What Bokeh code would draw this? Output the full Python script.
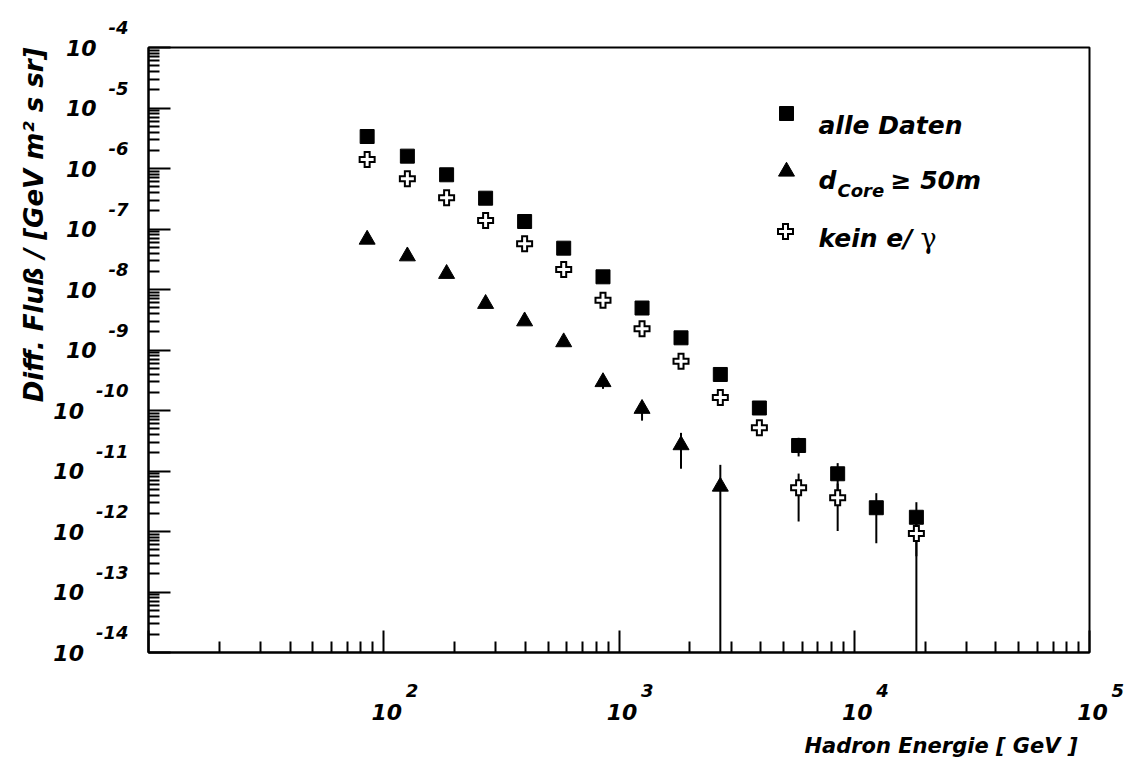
import math
import numpy as np
from bokeh.plotting import figure
from bokeh.models import Range1d, FixedTicker, CustomJSTickFormatter
from bokeh.core.properties import value
from bokeh.embed import file_html
from bokeh.resources import INLINE

# Hadron energy bin centres [GeV]
energy = [85, 126, 185, 271, 397, 582, 855, 1253, 1835, 2696, 3951, 5801, 8502, 12410, 18370]

# differential flux, all events
flux_all = [3.38e-6, 1.60e-6, 7.87e-7, 3.23e-7, 1.33e-7, 4.82e-8, 1.62e-8, 4.94e-9,
            1.59e-9, 3.94e-10, 1.10e-10, 2.64e-11, 9.0e-12, 2.47e-12, 1.72e-12]
err_all = [1.0e-7, 5.0e-8, 2.0e-8, 1.0e-8, 4.0e-9, 1.5e-9, 6.0e-10, 2.0e-10,
           7.0e-11, 2.5e-11, 1.0e-11, 9.0e-12, 4.5e-12, 1.83e-12, 1.33e-12]

# differential flux, no e/gamma candidates (no entry in the 12.4 TeV bin)
flux_nogamma = [1.41e-6, 6.76e-7, 3.28e-7, 1.38e-7, 5.69e-8, 2.14e-8, 6.65e-9, 2.24e-9,
                6.53e-10, 1.64e-10, 5.18e-11, 5.27e-12, 3.61e-12, None, 9.3e-13]
err_nogamma = [5.0e-8, 2.5e-8, 1.2e-8, 5.0e-9, 2.0e-9, 8.0e-10, 3.0e-10, 1.0e-10,
               3.5e-11, 1.2e-11, 4.0e-12, 3.8e-12, 2.59e-12, None, 1.1e-12]

# differential flux, core distance >= 50 m (first ten bins)
energy_core = energy[:10]
flux_core = [6.70e-8, 3.55e-8, 1.82e-8, 5.81e-9, 2.99e-9, 1.35e-9, 2.96e-10, 1.07e-10,
             2.68e-11, 5.54e-12]
err_core = [4.0e-9, 2.5e-9, 1.4e-9, 6.0e-10, 3.5e-10, 2.0e-10, 6.8e-11, 3.9e-11,
            1.59e-11, 7.1e-12]

# axis decades and the labelled ones
x_decades = [1, 2, 3, 4, 5]
x_labelled = [2, 3, 4, 5]
y_decades = [-14, -13, -12, -11, -10, -9, -8, -7, -6, -5, -4]

X_MIN, X_MAX = 1e1, 1e5
Y_MIN, Y_MAX = 1e-14, 1e-4

W, H = 1128, 769
FL, FR, FT, FB = 148, 1089, 47, 652   # frame edges in pixels

FONT = "DejaVu Sans"
STYLE = "bold italic"

p = figure(width=W, height=H, x_axis_type="log", y_axis_type="log",
           x_range=Range1d(X_MIN, X_MAX), y_range=Range1d(Y_MIN, Y_MAX),
           output_backend="svg", toolbar_location=None,
           min_border_left=FL, min_border_right=W - FR,
           min_border_top=FT, min_border_bottom=H - FB)
p.background_fill_color = "white"
p.border_fill_color = "white"
p.grid.visible = False
p.outline_line_color = "black"
p.outline_line_width = 2


def minor_ticks(decades):
    out = []
    for d in decades[:-1]:
        for k in range(2, 10):
            out.append(k * 10.0 ** d)
    return out


for ax, decs in ((p.xaxis[0], x_decades), (p.yaxis[0], y_decades)):
    ax.ticker = FixedTicker(ticks=[10.0 ** d for d in decs], minor_ticks=minor_ticks(decs))
    ax.formatter = CustomJSTickFormatter(code="return ''")
    ax.axis_line_color = "black"
    ax.axis_line_width = 2
    ax.major_tick_in = 22
    ax.major_tick_out = 0
    ax.minor_tick_in = 11
    ax.minor_tick_out = 0
    ax.major_tick_line_width = 2
    ax.minor_tick_line_width = 2
    ax.major_tick_line_color = "black"
    ax.minor_tick_line_color = "black"


def fx(px):
    """frame pixel column -> energy"""
    return 10 ** (math.log10(X_MIN) + (px - FL) / (FR - FL) * math.log10(X_MAX / X_MIN))


def fy(py):
    """frame pixel row -> flux"""
    return 10 ** (math.log10(Y_MAX) - (py - FT) / (FB - FT) * math.log10(Y_MAX / Y_MIN))


def arr(v):
    return np.array([np.nan if a is None else a for a in v], dtype=float)


def bars(x, y, e):
    x, y, e = arr(x), arr(y), arr(e)
    lo = y - e
    lo = np.where(lo > 0, lo, Y_MIN)
    p.segment(x0=x, y0=lo, x1=x, y1=y + e, line_color="black", line_width=2)


# error bars first, markers on top
bars(energy, flux_all, err_all)
bars(energy, flux_nogamma, err_nogamma)
bars(energy_core, flux_core, err_core)


def open_cross(x, y):
    p.scatter(x=x, y=y, marker="cross", size=17, line_color="black", line_width=7)
    p.scatter(x=x, y=y, marker="cross", size=13, line_color="white", line_width=3)


p.scatter(x=energy, y=flux_all, marker="square", size=14,
          fill_color="black", line_color="black", line_width=1)
p.scatter(x=energy_core, y=flux_core, marker="triangle", size=16,
          fill_color="black", line_color="black", line_width=1)
open_cross(arr(energy), arr(flux_nogamma))

# legend swatches
p.scatter(x=[fx(786)], y=[fy(113)], marker="square", size=14,
          fill_color="black", line_color="black")
p.scatter(x=[fx(786)], y=[fy(171)], marker="triangle", size=16,
          fill_color="black", line_color="black")
open_cross([fx(785)], [fy(231)])


def txt(x, y, texts, size, align="left", baseline="alphabetic", xo=0, yo=0,
        font=FONT, style=STYLE, angle=0.0):
    # text drawn on the overlay level so it is not clipped to the frame
    p.text(x=x, y=y, text=texts, x_offset=xo, y_offset=yo, angle=angle,
           text_font=value(font), text_font_style=style,
           text_font_size=f"{size}px", text_align=align,
           text_baseline=baseline, text_color="black", level="overlay")


# legend entries
txt([fx(818)], [fy(125)], ["alle Daten"], 25)
txt([fx(818)], [fy(180)], ["d"], 25)
txt([fx(837)], [fy(190)], ["Core"], 18)
txt([fx(890)], [fy(180)], ["≥ 50m"], 25)
txt([fx(818)], [fy(238)], ["kein e/"], 25)
txt([fx(920)], [fy(238)], ["γ"], 27, font="DejaVu Serif", style="normal")

# y tick labels: "10" followed by a raised exponent, right-aligned as a unit
EXP_SIZE = 18
y_exp = [str(d) for d in y_decades]
y_exp_w = [EXP_SIZE * (0.415 + 0.696 * (len(s) - 1)) for s in y_exp]
txt([X_MIN] * len(y_decades), [10.0 ** d for d in y_decades], y_exp, EXP_SIZE,
    align="right", baseline="middle", xo=-20, yo=-20)
txt([X_MIN] * len(y_decades), [10.0 ** d for d in y_decades], ["10"] * len(y_decades), 22,
    align="right", baseline="middle", xo=[-20 - w - 12 for w in y_exp_w], yo=0)

# x tick labels
x_ticks = [10.0 ** d for d in x_labelled]
txt(x_ticks, [Y_MIN] * len(x_ticks), ["10"] * len(x_ticks), 22,
    align="center", baseline="middle", xo=3, yo=59)
txt(x_ticks, [Y_MIN] * len(x_ticks), [str(d) for d in x_labelled], EXP_SIZE,
    align="left", baseline="middle", xo=22, yo=38)

# axis titles
txt([X_MAX], [Y_MIN], ["Hadron Energie [ GeV ]"], 21, align="right", baseline="middle",
    xo=-12, yo=93)
txt([X_MIN], [Y_MAX], ["Diff. Fluß / [GeV m² s sr]"], 26, align="right", baseline="middle",
    xo=-115, yo=0, angle=math.pi / 2)

open("out.html", "w").write(file_html(p, INLINE))
